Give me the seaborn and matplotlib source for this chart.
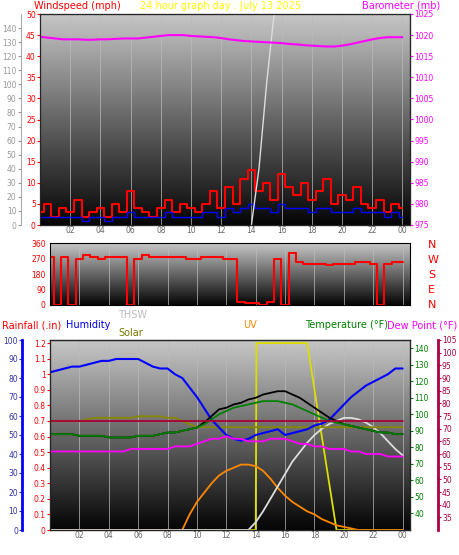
import numpy as np
import matplotlib
matplotlib.use("Agg")
import matplotlib.pyplot as plt
import seaborn as sns

sns.set_style("white")
plt.rcParams['font.family'] = ['DejaVu Sans']

hours = [h * 0.5 for h in range(49)]
xt = [2, 4, 6, 8, 10, 12, 14, 16, 18, 20, 22, 24]
xtl = ["02", "04", "06", "08", "10", "12", "14", "16", "18", "20", "22", "00"]

baro = [1019.6, 1019.4, 1019.2, 1019.0, 1019.0, 1019.0, 1018.9, 1018.9, 1019.0, 1019.0,
        1019.1, 1019.2, 1019.2, 1019.2, 1019.4, 1019.6, 1019.8, 1020.0, 1020.0, 1020.0,
        1019.8, 1019.7, 1019.6, 1019.5, 1019.3, 1019.0, 1018.8, 1018.6, 1018.5, 1018.4,
        1018.3, 1018.2, 1018.1, 1017.9, 1017.8, 1017.6, 1017.5, 1017.4, 1017.3, 1017.3,
        1017.5, 1017.8, 1018.2, 1018.6, 1019.0, 1019.3, 1019.5, 1019.5, 1019.5]
wind = [3, 5, 2, 4, 3, 6, 2, 3, 4, 2, 5, 3, 8, 4, 3, 2, 4, 6, 3, 5,
        4, 3, 5, 8, 4, 9, 5, 11, 13, 8, 10, 6, 12, 9, 7, 10, 6, 8, 11, 5,
        7, 6, 9, 5, 4, 6, 3, 5, 4]
wind_avg = [2, 2, 2, 2, 2, 2, 1, 2, 2, 1, 2, 2, 3, 2, 2, 2, 2, 3, 2, 2,
            2, 2, 3, 3, 2, 4, 3, 4, 5, 4, 4, 3, 5, 4, 4, 4, 3, 4, 4, 3,
            3, 3, 4, 3, 3, 3, 2, 3, 2]
rain_hr = [14.0, 14.5, 15.0, 15.5]
rain_val = [0, 40, 100, 150]

wdir = [280, 0, 280, 0, 270, 290, 280, 270, 280, 280, 280, 0, 270, 290, 280, 280, 280, 280, 280, 270,
        270, 280, 280, 280, 270, 270, 20, 10, 10, 0, 20, 270, 0, 300, 250, 240, 240, 240, 230, 240,
        240, 240, 250, 250, 240, 0, 240, 250, 250]

hum = [83, 84, 85, 86, 86, 87, 88, 89, 89, 90, 90, 90, 90, 88, 86, 85, 85, 82, 80, 75,
       70, 64, 58, 54, 50, 48, 47, 48, 50, 51, 52, 53, 50, 51, 52, 53, 55, 56, 58, 62,
       66, 70, 73, 76, 78, 80, 82, 85, 85]
temp = [88, 88, 88, 88, 87, 87, 87, 87, 86, 86, 86, 86, 87, 87, 87, 88, 89, 89, 90, 91,
        92, 94, 97, 100, 102, 104, 105, 106, 107, 108, 108, 108, 107, 106, 104, 102, 100, 98, 96, 95,
        94, 93, 92, 91, 90, 89, 89, 88, 88]
thsw = [88, 88, 88, 88, 87, 87, 87, 87, 86, 86, 86, 86, 87, 87, 87, 88, 89, 89, 90, 91,
        92, 95, 99, 103, 104, 106, 107, 109, 110, 112, 113, 114, 114, 112, 110, 107, 104, 101, 98, 96,
        94, 93, 92, 91, 90, 89, 89, 88, 88]
dew = [61, 61, 61, 61, 61, 61, 61, 61, 61, 61, 61, 62, 62, 62, 62, 62, 62, 63, 63, 63,
       64, 65, 66, 66, 67, 66, 66, 65, 65, 65, 66, 66, 66, 65, 64, 64, 63, 63, 62, 62,
       62, 61, 61, 60, 60, 60, 59, 59, 59]
heat = [73] * 49
solar = [0.7, 0.7, 0.7, 0.7, 0.7, 0.71, 0.72, 0.72, 0.72, 0.72, 0.72, 0.72, 0.73, 0.73, 0.73, 0.73, 0.72, 0.72, 0.7, 0.68,
         0.66, 0.66, 0.66, 0.66, 0.66, 0.66, 0.66, 0.66, 0.66, 0.66, 0.66, 0.66, 0.66, 0.66, 0.66, 0.66, 0.66, 0.66, 0.66, 0.66,
         0.66, 0.66, 0.66, 0.66, 0.66, 0.66, 0.66, 0.66, 0.66]
uv_hr = [0, 14.0, 14.05, 17.5, 19.5, 24]
uv = [0, 0, 1.2, 1.2, 0, 0]
orange = [0] * 19 + [0.1, 0.18, 0.24, 0.3, 0.35, 0.38, 0.4, 0.42, 0.42, 0.41, 0.38, 0.33, 0.27, 0.22, 0.18, 0.15, 0.12, 0.1, 0.07, 0.05,
                     0.03, 0.02, 0.01, 0, 0, 0, 0, 0, 0, 0]
gray = [0] * 28 + [0.05, 0.12, 0.2, 0.28, 0.36, 0.44, 0.5, 0.56, 0.61, 0.65, 0.68, 0.7, 0.72, 0.72, 0.71, 0.69, 0.66, 0.62, 0.57, 0.52, 0.48]

W, H = 459, 555
fig = plt.figure(figsize=(W / 100, H / 100), dpi=100)
fig.patch.set_facecolor("white")
grad = np.linspace(0.78, 0.02, 200).reshape(-1, 1)

def panel(rect, ylim):
    ax = fig.add_axes(rect)
    ax.imshow(grad, cmap="gray", vmin=0, vmax=1, aspect="auto",
              extent=[0, 24.5, ylim[0], ylim[1]], zorder=0)
    ax.set_xlim(0, 24.5)
    ax.set_ylim(*ylim)
    for x in xt:
        ax.axvline(x, color="#bbbbbb", lw=0.5, zorder=0.5)
    for s in ax.spines.values():
        s.set_color("black")
    return ax

def frac(px0, px1, py0, py1):
    return [px0 / W, 1 - py1 / H, (px1 - px0) / W, (py1 - py0) / H]

fs = 5.5
tf = 7
# top
ax1 = panel(frac(40, 410, 14, 225), (0, 50))
ax1.step(hours, wind, where="mid", color="red", lw=1.5, zorder=3)
ax1.step(hours, wind_avg, where="mid", color="blue", lw=1, zorder=3)
ax1.set_xticks(xt); ax1.set_xticklabels(xtl, fontsize=fs, color="#666666")
ax1.set_yticks(range(0, 51, 5)); ax1.tick_params(axis="y", colors="red", labelsize=fs, length=2, pad=1)
ax1.tick_params(axis="x", length=0, pad=1)
axg = ax1.twinx(); axg.spines["left"].set_position(("outward", 14)); axg.yaxis.set_ticks_position("left")
axg.spines["left"].set_color("#aaaaaa")
axg.set_ylim(0, 150); axg.set_yticks(range(0, 150, 10)); axg.tick_params(colors="#999999", labelsize=fs, length=2, pad=1)
axg.plot(rain_hr, rain_val, color="#dddddd", lw=1)
axb = ax1.twinx(); axb.set_ylim(975, 1025); axb.set_yticks(range(975, 1026, 5))
axb.tick_params(colors="magenta", labelsize=fs, length=2, pad=1)
axb.plot(hours, baro, color="magenta", lw=1.5)
fig.text(34 / W, 1 - 6 / H, "Windspeed (mph)", color="red", fontsize=tf, va="center")
fig.text(0.48, 1 - 6 / H, "24 hour graph day : July 13 2025", color="yellow", fontsize=tf, va="center", ha="center")
fig.text(440 / W, 1 - 6 / H, "Barometer (mb)", color="magenta", fontsize=tf, va="center", ha="right")

# middle
ax2 = panel(frac(50, 410, 243, 305), (0, 360))
ax2.plot(hours, wdir, color="red", lw=1.5, drawstyle="steps-mid")
ax2.set_yticks([0, 90, 180, 270, 360]); ax2.tick_params(axis="y", colors="red", labelsize=fs, length=2, pad=1)
ax2.set_xticks(xt); ax2.set_xticklabels([]); ax2.tick_params(axis="x", length=0)
for i, c in enumerate(["N", "W", "S", "E", "N"]):
    fig.text(428 / W, 1 - (245 + i * 15) / H, c, color="red", fontsize=8, va="center")

# bottom
ax3 = panel(frac(50, 410, 340, 530), (0, 1.22))
ticks = np.round(np.arange(0, 1.21, 0.1), 1)
ax3.set_yticks(ticks); ax3.set_yticklabels([f"{v:g}" for v in ticks])
ax3.tick_params(axis="y", colors="red", labelsize=fs, length=2, pad=1)
ax3.set_xticks(xt); ax3.set_xticklabels(xtl, fontsize=fs, color="#666666"); ax3.tick_params(axis="x", length=0, pad=1)
ax3.plot(uv_hr, uv, color="#dddd00", lw=1.3, zorder=3)
ax3.plot(hours, orange, color="#ff8800", lw=1.3, zorder=3)
ax3.plot(hours, gray, color="#dddddd", lw=1.3, zorder=3)
ax3.plot(hours, solar, color="#888800", lw=1.3, zorder=3)
axh = ax3.twinx(); axh.spines["left"].set_position(("outward", 20)); axh.yaxis.set_ticks_position("left")
axh.spines["left"].set_color("blue"); axh.spines["left"].set_linewidth(2)
axh.set_ylim(0, 100); axh.set_yticks(range(0, 101, 10)); axh.tick_params(colors="#3333aa", labelsize=fs, length=2, pad=1)
axh.plot(hours, hum, color="blue", lw=1.5)
axt = ax3.twinx(); axt.set_ylim(30, 145); axt.set_yticks(range(40, 141, 10))
axt.tick_params(colors="green", labelsize=fs, length=2, pad=1)
axt.plot(hours, thsw, color="black", lw=1.3)
axt.plot(hours, temp, color="green", lw=1.3)
axd = ax3.twinx(); axd.spines["right"].set_position(("outward", 20)); axd.set_ylim(30, 105)
axd.set_yticks(range(35, 106, 5)); axd.tick_params(colors="#aa0044", labelsize=fs, length=2, pad=1)
axd.spines["right"].set_color("#aa0044"); axd.spines["right"].set_linewidth(2)
axd.plot(hours, dew, color="magenta", lw=1.3)
axd.plot(hours, heat, color="#aa0033", lw=1.3)
y = 1 - 328 / H
fig.text(2 / W, y, "Rainfall (.in)", color="red", fontsize=tf)
fig.text(66 / W, y, "Humidity", color="blue", fontsize=tf)
fig.text(118 / W, 1 - 318 / H, "THSW", color="#bbbbbb", fontsize=tf)
fig.text(118 / W, 1 - 336 / H, "Solar", color="#777700", fontsize=tf)
fig.text(243 / W, y, "UV", color="#ff8800", fontsize=tf)
fig.text(305 / W, y, "Temperature (°F)", color="green", fontsize=tf)
fig.text(457 / W, y, "Dew Point (°F)", color="magenta", fontsize=tf, ha="right")

fig.savefig("out.png", dpi=100)
